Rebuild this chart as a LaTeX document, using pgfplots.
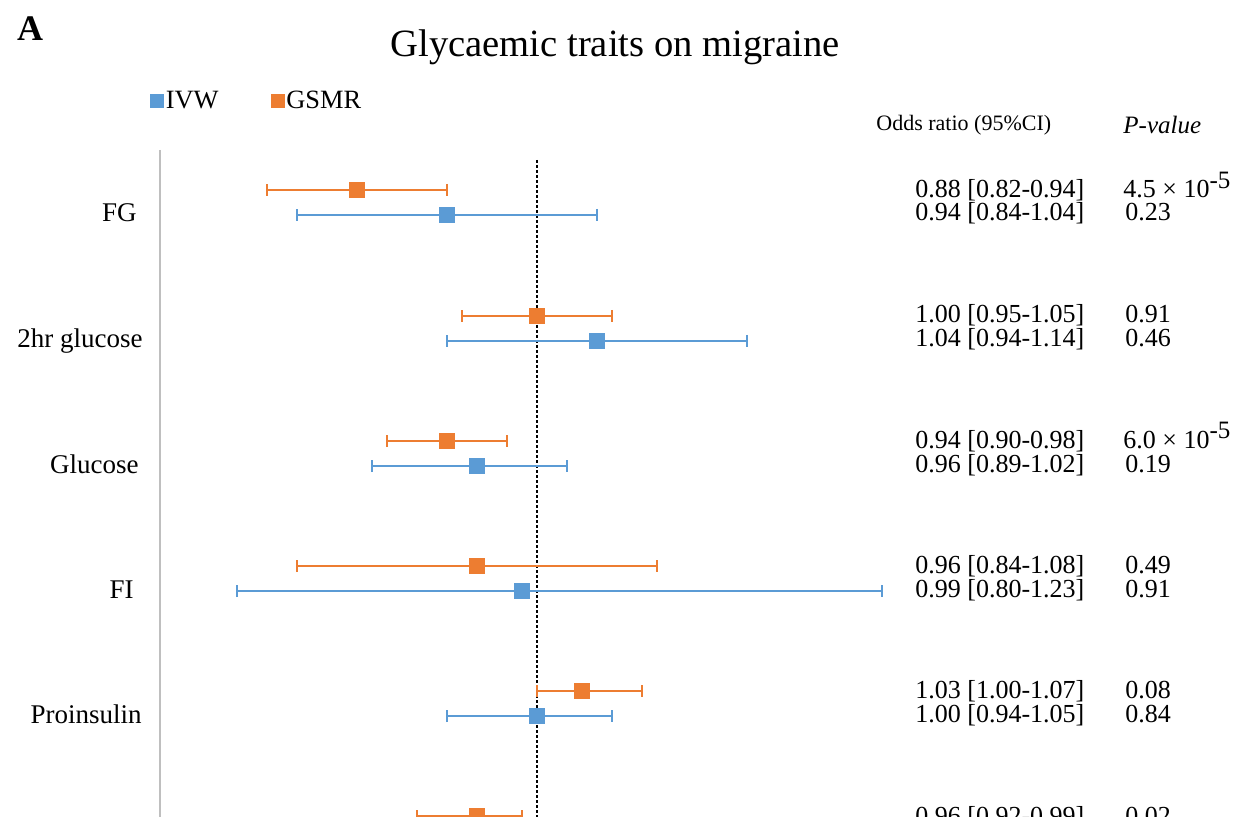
\documentclass[border=0pt]{standalone}
\usepackage{fontspec}
\setmainfont{Liberation Serif}
\usepackage{pgfplots}
\pgfplotsset{compat=1.18}
\definecolor{ivw}{HTML}{5B9BD5}
\definecolor{gsmr}{HTML}{ED7D31}
\definecolor{axisgray}{HTML}{BFBFBF}
\newcommand{\pexp}[1]{\raisebox{0.8ex}{\fontsize{12.5}{12.5}\selectfont #1}}
\begin{document}
\begin{tikzpicture}
\useasboundingbox (0,0) rectangle (622.5pt,-408.5pt);
\begin{axis}[at={(0,0)}, anchor=north west, scale only axis,
  width=622.5pt, height=408.5pt,
  xmin=0.642, xmax=1.472, ymin=-817, ymax=0,
  axis lines=none, clip=false,
  legend style={at={(axis description cs:0.1205,0.8764)}, anchor=west,
    draw=none, fill=none, inner sep=0pt, outer sep=0pt,
    font=\fontsize{13.2}{13.2}\selectfont, legend columns=2,
    /tikz/every even column/.append style={column sep=25pt},
    nodes={inner sep=1pt}},
  legend image code/.code={\fill[ivw] (0pt,-3.25pt) rectangle (6.5pt,3.25pt);},
]
\draw[axisgray, line width=1pt] (axis cs:0.7487,-150) -- (axis cs:0.7487,-817);
\draw[black, line width=0.6pt, dash pattern=on 1.5pt off 1pt] (axis cs:1,-160) -- (axis cs:1,-817);
\addplot[only marks, mark=square*, mark size=3.75pt, color=ivw,
  error bars/.cd, x dir=both, x explicit,
  error bar style={line width=1.1pt, ivw},
  error mark options={rotate=90, mark size=3pt, line width=1.1pt, ivw}]
  coordinates {
  (0.94,-215) += (0.10,0) -= (0.10,0)
  (1.04,-341) += (0.10,0) -= (0.10,0)
  (0.96,-466) += (0.06,0) -= (0.07,0)
  (0.99,-591) += (0.24,0) -= (0.19,0)
  (1.00,-716) += (0.05,0) -= (0.06,0)
  };
\addlegendentry{IVW}
\addplot[only marks, mark=square*, mark size=3.75pt, color=gsmr,
  legend image code/.code={\fill[gsmr] (0pt,-3.25pt) rectangle (6.5pt,3.25pt);},
  error bars/.cd, x dir=both, x explicit,
  error bar style={line width=1.1pt, gsmr},
  error mark options={rotate=90, mark size=3pt, line width=1.1pt, gsmr}]
  coordinates {
  (0.88,-190) += (0.06,0) -= (0.06,0)
  (1.00,-316) += (0.05,0) -= (0.05,0)
  (0.94,-441) += (0.04,0) -= (0.04,0)
  (0.96,-566) += (0.12,0) -= (0.12,0)
  (1.03,-691) += (0.04,0) -= (0.03,0)
  (0.96,-816) += (0.03,0) -= (0.04,0)
  };
\addlegendentry{GSMR}
\end{axis}
\begin{scope}[x=0.5pt,y=-0.5pt]
\node[font=\fontsize{18}{18}\selectfont\bfseries] at (30,29) {A};
\node[font=\fontsize{19.3}{19.3}\selectfont] at (615,47) {Glycaemic traits on migraine};
\node[font=\fontsize{11}{11}\selectfont, anchor=west, inner sep=0pt] at (876,125) {Odds ratio (95\%CI)};
\node[font=\fontsize{12.5}{12.5}\selectfont\itshape, anchor=west, inner sep=0pt] at (1123,125) {P-value};
\begin{scope}[every node/.style={font=\fontsize{13.5}{13.5}\selectfont, anchor=base east, inner sep=0pt}]
\node at (137,222) {FG};
\node at (143,348) {2hr glucose};
\node at (139,473) {Glucose};
\node at (134,598) {FI};
\node at (142,723) {Proinsulin};
\end{scope}
\begin{scope}[every node/.style={font=\fontsize{13}{13}\selectfont, anchor=base west, inner sep=0pt}]
\node at (915,198) {0.88 [0.82-0.94]};
\node at (915,221) {0.94 [0.84-1.04]};
\node at (915,323) {1.00 [0.95-1.05]};
\node at (915,347) {1.04 [0.94-1.14]};
\node at (915,448) {0.94 [0.90-0.98]};
\node at (915,472) {0.96 [0.89-1.02]};
\node at (915,573) {0.96 [0.84-1.08]};
\node at (915,597) {0.99 [0.80-1.23]};
\node at (915,698) {1.03 [1.00-1.07]};
\node at (915,722) {1.00 [0.94-1.05]};
\node at (915,824) {0.96 [0.92-0.99]};
\node at (1123,198) {4.5 × 10\pexp{-5}};
\node at (1125,221) {0.23};
\node at (1125,323) {0.91};
\node at (1125,347) {0.46};
\node at (1123,448) {6.0 × 10\pexp{-5}};
\node at (1125,472) {0.19};
\node at (1125,573) {0.49};
\node at (1125,597) {0.91};
\node at (1125,698) {0.08};
\node at (1125,722) {0.84};
\node at (1125,824) {0.02};
\end{scope}
\end{scope}
\end{tikzpicture}
\end{document}
